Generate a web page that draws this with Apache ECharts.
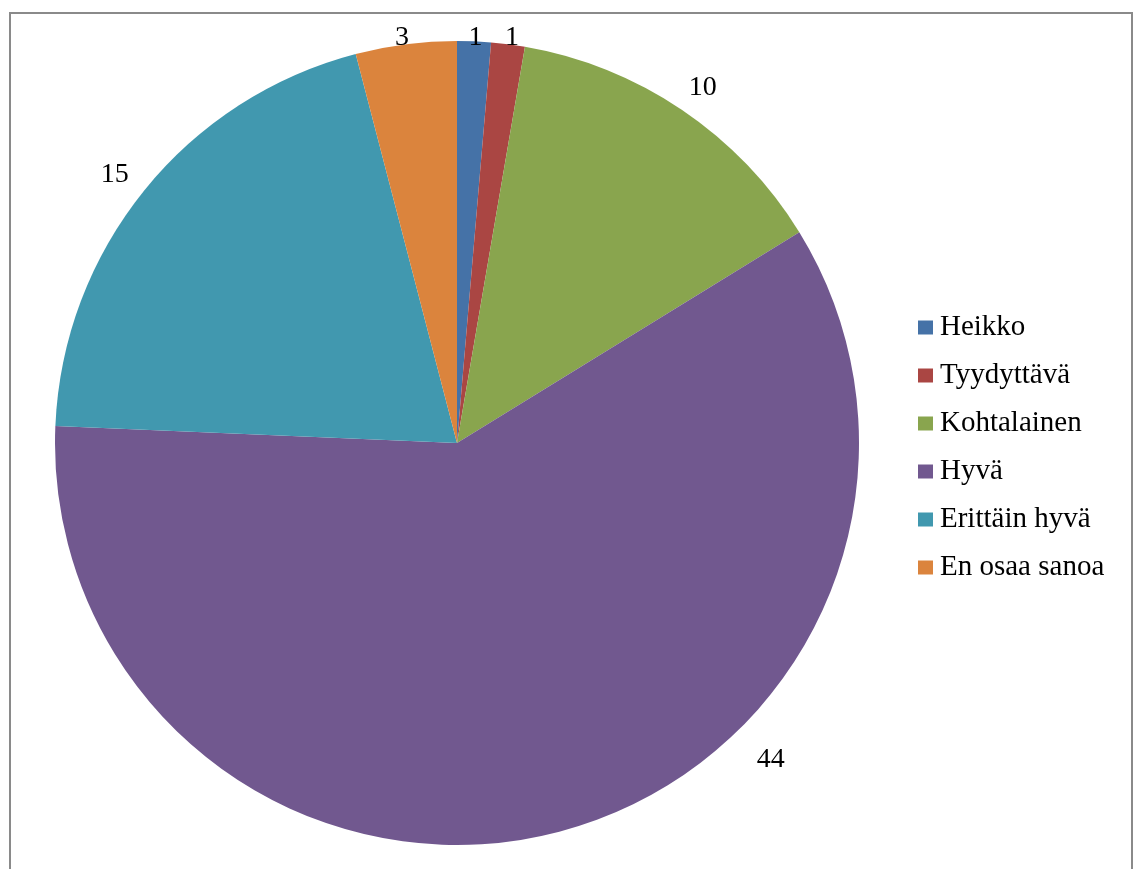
<!DOCTYPE html>
<html>
<head>
<meta charset="utf-8">
<script src="https://cdn.jsdelivr.net/npm/echarts@6/dist/echarts.min.js"></script>
<style>
html,body{margin:0;padding:0;background:#fff;}
#chart{width:1133px;height:869px;}
</style>
</head>
<body>
<div id="chart"></div>
<script>
const categories = ['Heikko', 'Tyydyttävä', 'Kohtalainen', 'Hyvä', 'Erittäin hyvä', 'En osaa sanoa'];
const values = [1, 1, 10, 44, 15, 3];
const colors = ['#4572A7', '#AA4643', '#89A54E', '#71588F', '#4198AF', '#DB843D'];
// Excel "best fit" moved the Hyvä label away from its mid-angle (degrees clockwise from top)
const labelAngleOverride = [null, null, null, 134.5, null, null];

const CX = 457, CY = 443, R = 402;
const total = values.reduce((a, b) => a + b, 0);
const cumBefore = values.map((v, i) => values.slice(0, i).reduce((a, b) => a + b, 0));

const chart = echarts.init(document.getElementById('chart'), null, {renderer: 'canvas'});
const font = "'Liberation Serif', 'Times New Roman', serif";

chart.setOption({
  animation: false,
  backgroundColor: '#ffffff',
  color: colors,
  graphic: [{
    type: 'rect',
    shape: {x: 10, y: 13, width: 1122, height: 900},
    style: {fill: 'none', stroke: '#8a8a8a', lineWidth: 2},
    silent: true,
    z: -1
  }],
  legend: {
    orient: 'vertical',
    left: 918,
    top: 313,
    padding: 0,
    itemWidth: 15,
    itemHeight: 14,
    itemGap: 19,
    icon: 'rect',
    data: categories,
    textStyle: {fontFamily: font, fontSize: 29, color: '#000', lineHeight: 29, padding: [0, 0, 0, 2]}
  },
  series: [{
    type: 'pie',
    center: [CX, CY],
    radius: [0, R],
    startAngle: 90,
    clockwise: true,
    avoidLabelOverlap: false,
    itemStyle: {borderWidth: 0},
    emphasis: {disabled: true},
    label: {
      show: true,
      position: 'outside',
      formatter: '{c}',
      fontFamily: font,
      fontSize: 28,
      color: '#000'
    },
    labelLine: {show: false},
    labelLayout: function (p) {
      const i = p.dataIndex;
      let a = (cumBefore[i] + values[i] / 2) / total * 360;
      if (labelAngleOverride[i] != null) a = labelAngleOverride[i];
      const rad = a * Math.PI / 180;
      const s = Math.sin(rad), c = Math.cos(rad);
      const w = p.labelRect.width, h = p.labelRect.height;
      const proj = (w / 2) * Math.abs(s) + (h * 0.35) * Math.abs(c);
      const d = R + 21 + proj;
      let x = CX + d * s;
      let y = CY - d * c + 8;
      if (y < 38) y = 38;
      return {x: x, y: y, align: 'center', verticalAlign: 'middle'};
    },
    data: categories.map((n, i) => ({name: n, value: values[i]}))
  }]
});
</script>
</body>
</html>
